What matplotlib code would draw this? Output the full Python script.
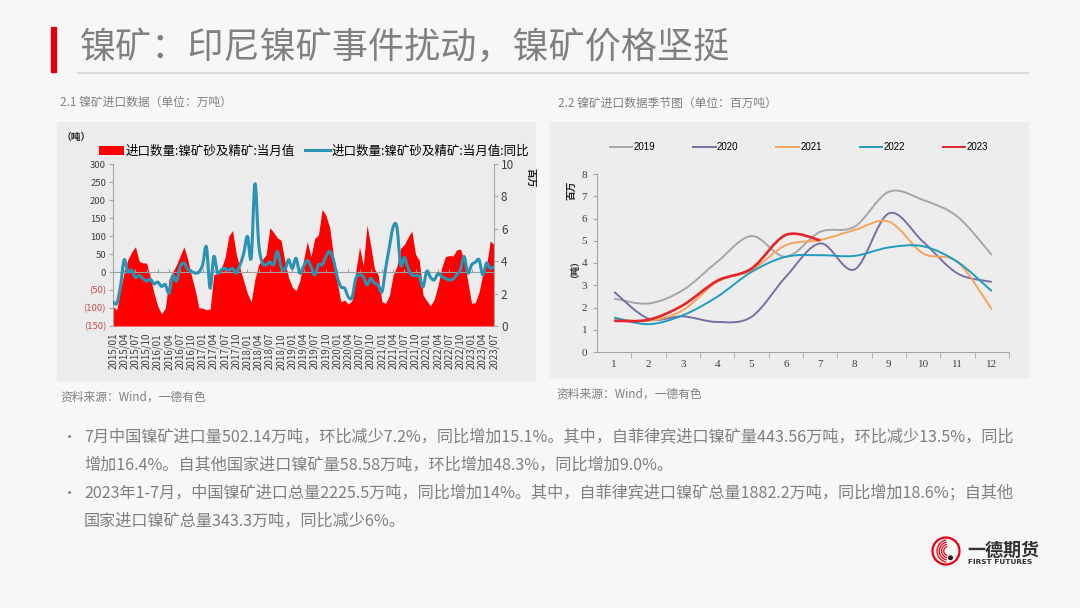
import numpy as np
import matplotlib
matplotlib.use('Agg')
import matplotlib.pyplot as plt
from matplotlib.path import Path
from matplotlib.patches import PathPatch, Rectangle, Patch, Circle, Arc
from matplotlib.lines import Line2D

plt.rcParams['font.family'] = ['Noto Sans CJK SC', 'DejaVu Sans']

# ---- data ----
title = '镍矿：印尼镍矿事件扰动，镍矿价格坚挺'
sub_left = '2.1 镍矿进口数据（单位：万吨）'
sub_right = '2.2 镍矿进口数据季节图（单位：百万吨）'
source = '资料来源：Wind，一德有色'

# 月度进口量（百万吨），2015/01 - 2023/07
imports = [1.20, 1.00, 2.22, 3.33, 4.11, 4.56, 4.89, 4.00, 3.89, 3.89, 3.00, 2.00,
           1.22, 0.75, 1.10, 2.90, 3.33, 3.78, 4.33, 4.89, 4.11, 3.11, 2.22, 1.11,
           1.11, 1.00, 1.05, 3.20, 3.22, 3.56, 4.22, 5.56, 5.89, 4.44, 3.56, 2.78,
           2.00, 1.49, 2.89, 3.78, 4.11, 4.40, 6.07, 5.78, 5.44, 5.29, 4.00, 3.00,
           2.40, 2.18, 2.78, 4.05, 5.21, 4.28, 5.40, 5.63, 7.20, 6.83, 6.08, 4.36,
           2.70, 1.50, 1.60, 1.35, 1.58, 3.38, 4.88, 3.71, 6.23, 4.95, 3.53, 3.15,
           1.50, 1.40, 1.88, 3.15, 3.68, 4.80, 5.03, 5.48, 5.86, 4.43, 4.05, 1.91,
           1.55, 1.25, 1.65, 2.48, 3.60, 4.28, 4.35, 4.32, 4.70, 4.75, 4.05, 2.73,
           1.40, 1.45, 2.10, 3.20, 3.75, 5.26, 5.02]
# 同比（%）
yoy = [-83, -87, -40, 34, 0, 5, -15, -10, -18, -25, -20, -33,
       -28, -40, -35, -59, -10, -25, 15, 25, 8, 2, -3, 0,
       20, 70, -45, 43, -3, 6, 10, 5, 10, -3, 20, 52,
       99, 39, 245, 80, 25, 20, 28, 20, 57, 15, 6, 34,
       10, 38, -3, 15, 32, 15, -8, 20, 20, 43, 57, 34,
       -13, -41, -45, -69, -71, -18, -8, -13, -36, -18, -31, -36,
       -55, 10, 70, 125, 125, 20, 40, 10, -8, -10, -12, -41,
       2, -15, -22, -5, -12, -18, -22, -20, -8, 6, 43, -3,
       20, 27, 34, -8, 25, 10, 15]
months = ['%d/%02d' % (y, m) for y in range(2015, 2024) for m in range(1, 13)][:len(imports)]

legend_left = ['进口数量:镍矿砂及精矿:当月值', '进口数量:镍矿砂及精矿:当月值:同比']

season_x = list(range(1, 13))
seasons = {
    '2019': [2.40, 2.18, 2.78, 4.05, 5.21, 4.28, 5.40, 5.63, 7.20, 6.83, 6.08, 4.36],
    '2020': [2.70, 1.50, 1.60, 1.35, 1.58, 3.38, 4.88, 3.71, 6.23, 4.95, 3.53, 3.15],
    '2021': [1.50, 1.40, 1.88, 3.15, 3.68, 4.80, 5.03, 5.48, 5.86, 4.43, 4.05, 1.91],
    '2022': [1.55, 1.25, 1.65, 2.48, 3.60, 4.28, 4.35, 4.32, 4.70, 4.75, 4.05, 2.73],
    '2023': [1.40, 1.45, 2.10, 3.20, 3.75, 5.26, 5.02],
}
season_colors = {'2019': '#a6a6a6', '2020': '#7b6ea6', '2021': '#f4a55a',
                 '2022': '#1f9cbf', '2023': '#e3262b'}

bullets = [
    ['7月中国镍矿进口量502.14万吨，环比减少7.2%，同比增加15.1%。其中，自菲律宾进口镍矿量443.56万吨，环比减少13.5%，同比',
     '增加16.4%。自其他国家进口镍矿量58.58万吨，环比增加48.3%，同比增加9.0%。'],
    ['2023年1-7月，中国镍矿进口总量2225.5万吨，同比增加14%。其中，自菲律宾进口镍矿总量1882.2万吨，同比增加18.6%；自其他',
     '国家进口镍矿总量343.3万吨，同比减少6%。'],
]

W, H = 1080, 608


def fr(x0, y0, x1, y1):
    return [x0 / W, 1 - y1 / H, (x1 - x0) / W, (y1 - y0) / H]


def fx(x):
    return x / W


def fy(y):
    return 1 - y / H


def smooth_path(x, y):
    # 平滑曲线（类似 Excel 的平滑线）
    pts = np.column_stack([x, y]).astype(float)
    verts = [pts[0]]
    codes = [Path.MOVETO]
    n = len(pts)
    for i in range(n - 1):
        p0 = pts[i - 1] if i > 0 else pts[i]
        p1 = pts[i]
        p2 = pts[i + 1]
        p3 = pts[i + 2] if i + 2 < n else pts[i + 1]
        verts += [p1 + (p2 - p0) / 6, p2 - (p3 - p1) / 6, p2]
        codes += [Path.CURVE4] * 3
    return Path(verts, codes)


fig = plt.figure(figsize=(10.8, 6.08), dpi=100, facecolor='#f7f7f7')

# 标题
fig.patches.append(Rectangle((fx(51), fy(72)), 5 / W, 45 / H, transform=fig.transFigure,
                             color='#e00012', zorder=-2))
fig.add_artist(Line2D([fx(78), fx(1028)], [fy(73), fy(73)], color='#dadada', lw=1.5, zorder=-2))
fig.text(fx(80), fy(48), title, fontsize=26, color='#808080', va='center', fontweight='light')

# 面板
fig.patches.append(Rectangle((fx(57), fy(380)), (535 - 57) / W, (380 - 122) / H,
                             transform=fig.transFigure, color='#ececec', zorder=-2))
fig.patches.append(Rectangle((fx(550), fy(377)), (1028 - 550) / W, (377 - 122) / H,
                             transform=fig.transFigure, color='#ededed', zorder=-2))
fig.text(fx(60), fy(102), sub_left, fontsize=8.5, color='#808080', va='center')
fig.text(fx(558), fy(103), sub_right, fontsize=8.5, color='#808080', va='center')
fig.text(fx(60), fy(397), source, fontsize=8.5, color='#808080', va='center')
fig.text(fx(556), fy(394), source, fontsize=8.5, color='#808080', va='center')

# ---- 左图 ----
axL = fig.add_axes(fr(113, 164, 494, 326))
axR = axL.twinx()
axL.set_zorder(axR.get_zorder() + 1)
axL.patch.set_visible(False)
axR.patch.set_visible(False)
xm = np.arange(len(imports))
axR.fill_between(xm, 0, imports, color='#ff0000', lw=0)
axR.set_ylim(0, 10)
axR.set_yticks(range(0, 11, 2))
lt = list(range(-150, 301, 50))
axL.set_ylim(lt[0], lt[-1])
axL.set_xlim(0, len(imports) - 1)
axL.add_patch(PathPatch(smooth_path(xm, yoy), fill=False, ec='#2a92b3', lw=2.2,
                        joinstyle='round', capstyle='round', zorder=3))

# 零轴（带刻度）
zero = axL.secondary_xaxis(-lt[0] / (lt[-1] - lt[0]))
zero.set_xticks(xm[::3])
zero.tick_params(direction='in', length=2.5, color='#a0a0a0', labelbottom=False)
zero.spines['bottom'].set_color('#a0a0a0')
zero.spines['bottom'].set_linewidth(0.8)

axL.set_yticks(lt)
axL.set_yticklabels(['(%d)' % -v if v < 0 else str(v) for v in lt], fontsize=6.8)
for lab, v in zip(axL.get_yticklabels(), lt):
    lab.set_color('#c0504d' if v < 0 else '#404040')
axL.set_xticks(xm[::3])
axL.set_xticklabels(months[::3], rotation=90, fontsize=7, color='#404040')
axL.tick_params(axis='x', length=0, pad=5)
axL.tick_params(axis='y', length=3, color='#a6a6a6', pad=2)
axR.tick_params(axis='y', length=3, color='#a6a6a6', labelsize=8.5, labelcolor='#404040', pad=2)
for s in ['top', 'right', 'bottom']:
    axL.spines[s].set_visible(False)
for s in ['top', 'left', 'bottom']:
    axR.spines[s].set_visible(False)
axL.spines['left'].set_color('#a6a6a6')
axR.spines['right'].set_color('#a6a6a6')

fig.legend(handles=[Patch(fc='#ff0000', ec='none'), Line2D([], [], color='#2a92b3', lw=2.2)],
           labels=legend_left, loc='center', bbox_to_anchor=(fx(314), fy(151)), ncol=2,
           frameon=False, fontsize=9, handlelength=2, handleheight=0.7,
           handletextpad=0.1, columnspacing=0.8, borderpad=0)
fig.text(fx(62), fy(137), '（吨）', fontsize=7, fontweight='bold', color='#262626', va='center')
fig.text(fx(531), fy(178), '百万', fontsize=7, fontweight='bold', color='#262626',
         va='center', ha='center', rotation=270)

# ---- 右图 ----
axS = fig.add_axes(fr(597, 174, 1009, 352))
axS.set_facecolor('none')
axS.set_xlim(0.5, 12.5)
axS.set_ylim(0, 8)
for yr, vals in seasons.items():
    axS.add_patch(PathPatch(smooth_path(season_x[:len(vals)], vals), fill=False,
                            ec=season_colors[yr], lw=1.9 if yr == '2023' else 1.4,
                            joinstyle='round', zorder=3))
axS.set_xticks(season_x)
axS.set_xticks(np.arange(1.5, 12.6, 1), minor=True)
axS.set_yticks(range(0, 9))
axS.tick_params(axis='x', which='major', length=0, pad=6)
axS.tick_params(axis='x', which='minor', length=4, color='#a6a6a6')
axS.tick_params(axis='y', length=3, color='#a6a6a6', pad=4)
for lab in axS.get_xticklabels() + axS.get_yticklabels():
    lab.set_family('Liberation Serif')
    lab.set_fontsize(8)
    lab.set_color('#404040')
for s in ['top', 'right']:
    axS.spines[s].set_visible(False)
axS.spines['left'].set_color('#a6a6a6')
axS.spines['bottom'].set_color('#a6a6a6')

fig.legend(handles=[Line2D([], [], color=season_colors[y], lw=1.4) for y in seasons],
           labels=list(seasons), loc='center', bbox_to_anchor=(fx(799), fy(147)), ncol=5,
           frameon=False, prop={'family': 'Liberation Sans', 'size': 7}, handlelength=2.3,
           handletextpad=0.15, columnspacing=3.9, borderpad=0)
fig.text(fx(571), fy(190), '百万', fontsize=7, fontweight='bold', color='#262626',
         va='center', ha='center', rotation=90)
fig.text(fx(571), fy(265), '（吨）', fontsize=6.5, fontweight='bold', color='#262626',
         va='center', ha='center', rotation=90)

# ---- 文字说明 ----
line_y = [437, 465, 493, 521]
k = 0
for para in bullets:
    fig.text(fx(62), fy(line_y[k]), '•', fontsize=11, color='#808080', va='center')
    for ln in para:
        fig.text(fx(84), fy(line_y[k]), ln, fontsize=11.6, color='#7f7f7f', va='center')
        k += 1

# ---- logo ----
axG = fig.add_axes(fr(931, 536, 961, 566))
axG.set_xlim(-1, 1)
axG.set_ylim(-1, 1)
axG.set_aspect('equal')
axG.axis('off')
axG.add_patch(Circle((0, 0), 0.9, fill=False, ec='#e60012', lw=1.6))
for r in [0.3, 0.45, 0.6, 0.75]:
    axG.add_patch(Arc((0.15, 0), 2 * r, 2 * r, theta1=100, theta2=260, color='#e60012', lw=0.9))
axG.add_patch(Circle((0.3, -0.45), 0.12, color='#222222'))
fig.text(fx(967), fy(550), '一德期货', fontsize=13, fontweight='bold', color='#333333', va='center')
fig.text(fx(968), fy(562), 'FIRST FUTURES', fontsize=5.3, fontweight='bold', color='#333333',
         va='center', family='DejaVu Sans')

fig.savefig('out.png', dpi=100, facecolor=fig.get_facecolor())
